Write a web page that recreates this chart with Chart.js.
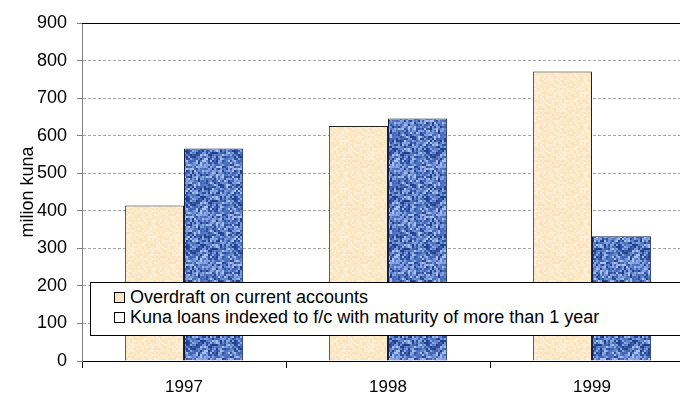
<!DOCTYPE html>
<html>
<head>
<meta charset="utf-8">
<title>Kuna loans</title>
<script src="https://cdn.jsdelivr.net/npm/chart.js"></script>
<style>
  html, body { margin: 0; padding: 0; overflow: hidden; background: #fff; }
  #wrap { position: relative; width: 700px; height: 401px; }
  #legend {
    position: absolute; left: 90px; top: 282px; width: 620px; height: 48px;
    border: 1px solid #000; background: #fff;
    font: 18px "Liberation Sans", Arial, sans-serif; color: #000;
    padding-top: 4px; box-sizing: content-box;
  }
  #legend div { height: 20px; line-height: 20px; padding-left: 23px; white-space: nowrap; }
  #legend span {
    display: inline-block; width: 9px; height: 9px; border: 1px solid #000;
    margin-right: 5px; vertical-align: 0px;
  }
</style>
</head>
<body>
<div id="wrap">
  <canvas id="chart" width="700" height="401"></canvas>
  <div id="legend">
    <div><span style="background:#fbe6c2"></span>Overdraft on current accounts</div>
    <div><span style="background:#fff"></span>Kuna loans indexed to f/c with maturity of more than 1 year</div>
  </div>
</div>

<script>
  const years = ['1997', '1998', '1999'];
  const overdraft = [414, 626, 771];
  const kunaIndexed = [566, 646, 332];
  const seriesNames = ['Overdraft on current accounts', 'Kuna loans indexed to f/c with maturity of more than 1 year'];

  // small deterministic texture tiles for the bar fills
  function hash(x, y, s) {
    let h = (x * 374761393 + y * 668265263 + s * 982451653) | 0;
    h = (h ^ (h >>> 13)) * 1274126177 | 0;
    return ((h ^ (h >>> 16)) >>> 0) / 4294967295;
  }
  function texture(colors, seed, cw, ch) {
    const c = document.createElement('canvas');
    c.width = 48; c.height = 48;
    const g = c.getContext('2d');
    for (let y = 0; y < 48; y += ch) {
      for (let x = 0; x < 48; x += cw) {
        const r = hash(x, y, seed);
        g.fillStyle = colors[Math.floor(r * colors.length)];
        g.fillRect(x, y, cw, ch);
      }
    }
    return g.createPattern(c, 'repeat');
  }

  const ctx = document.getElementById('chart').getContext('2d');
  const creamFill = texture(['#fbe7c4', '#fcebcf', '#fdf0da', '#fae3bc', '#fbe9c9'], 7, 2, 2);
  const blueFill = texture(['#2d519c', '#5274c0', '#7898da', '#a8c0ee', '#23408a', '#6284cc', '#8aa6e2', '#4466b2'], 3, 2, 2);

  const frameLine = {
    id: 'frameLine',
    afterDatasetsDraw(chart) {
      const a = chart.chartArea, c = chart.ctx;
      c.save();
      c.strokeStyle = '#000';
      c.lineWidth = 1;
      c.beginPath();
      c.moveTo(a.left, a.top + 0.5);
      c.lineTo(a.right, a.top + 0.5);
      c.stroke();
      c.restore();
    }
  };

  new Chart(ctx, {
    type: 'bar',
    data: {
      labels: years,
      datasets: [
        { label: seriesNames[0], data: overdraft, backgroundColor: creamFill, borderColor: '#222', borderWidth: 1 },
        { label: seriesNames[1], data: kunaIndexed, backgroundColor: blueFill, borderColor: '#0d1f4a', borderWidth: 1 }
      ]
    },
    options: {
      responsive: false,
      animation: false,
      devicePixelRatio: 1,
      layout: { padding: { top: 23, right: 6, left: 0, bottom: 0 } },
      datasets: { bar: { categoryPercentage: 0.58, barPercentage: 1 } },
      plugins: { legend: { display: false }, tooltip: { enabled: false } },
      scales: {
        x: {
          grid: { offset: true, drawOnChartArea: false, drawTicks: true, tickLength: 7, color: '#000' },
          border: { color: '#000' },
          ticks: { color: '#000', padding: 9, font: { family: 'Liberation Sans', size: 17 } },
          afterFit(s) { s.height = 40; }
        },
        y: {
          min: 0, max: 900,
          ticks: { stepSize: 100, color: '#000', padding: 10, font: { family: 'Liberation Sans', size: 18 } },
          grid: { color: '#a8a8a8', tickLength: 5, tickColor: '#808080' },
          border: { color: '#808080', dash: [3, 2] },
          title: { display: true, text: 'milion kuna', color: '#000', padding: { top: 17, bottom: 4 }, font: { family: 'Liberation Sans', size: 18 } },
          afterFit(s) { s.width = 82; }
        }
      }
    },
    plugins: [frameLine]
  });
</script>
</body>
</html>
